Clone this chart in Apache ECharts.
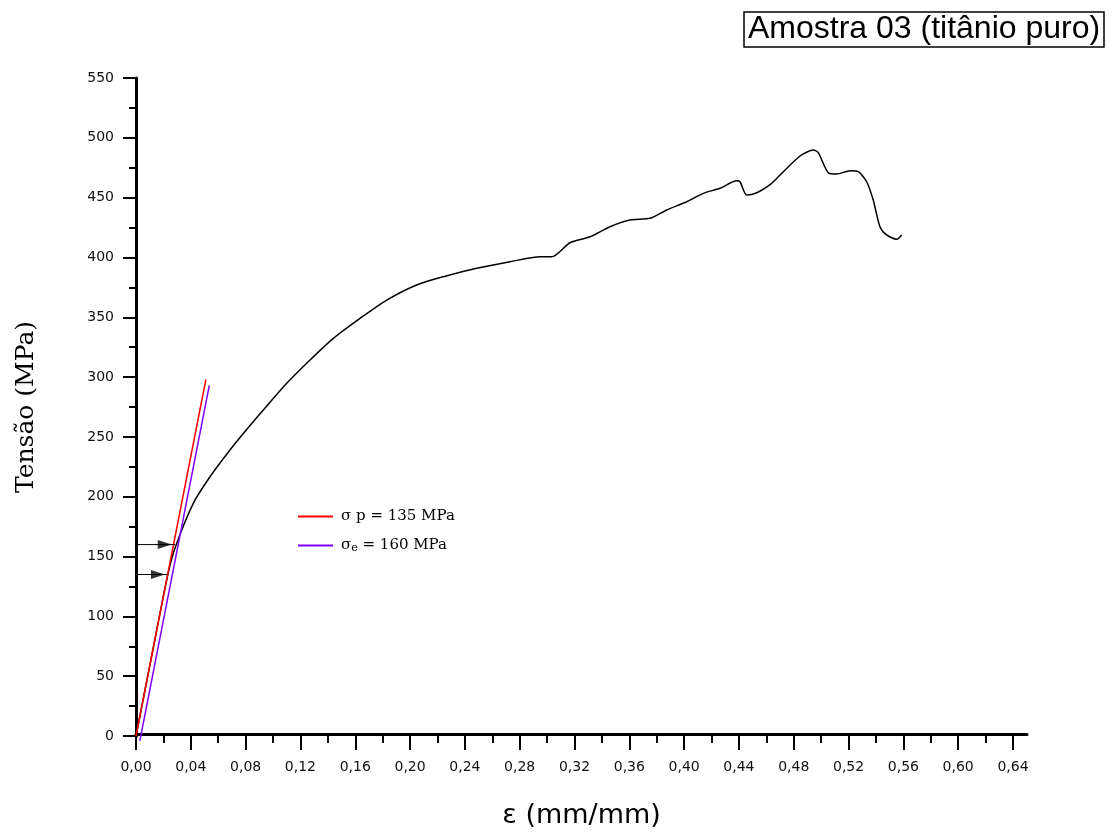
<!DOCTYPE html>
<html>
<head>
<meta charset="utf-8">
<title>Amostra 03 (titânio puro)</title>
<script src="https://cdn.jsdelivr.net/npm/echarts@6/dist/echarts.min.js"></script>
<style>
  html, body { margin: 0; padding: 0; background: #fff; }
  #chart { width: 1114px; height: 834px; }
</style>
</head>
<body>
<div id="chart"></div>
<script>
// Stress–strain curve, tensile test of commercially pure titanium
const strain = [0, 0.0117, 0.0230, 0.0285, 0.0418, 0.0540, 0.0686, 0.0832, 0.0929, 0.1100,
  0.1270, 0.1440, 0.1635, 0.1830, 0.2048, 0.2243, 0.2486, 0.2729, 0.2948, 0.3034,
  0.3167, 0.3313, 0.3459, 0.3605, 0.3751, 0.3873, 0.4019, 0.4140, 0.4262, 0.4384,
  0.4408, 0.4457, 0.4530, 0.4639, 0.4700, 0.4846, 0.4943, 0.4979, 0.5052, 0.5113,
  0.5211, 0.5271, 0.5332, 0.5380, 0.5429, 0.5478, 0.5551, 0.5588];
const stress = [0, 68.5, 133.7, 157.1, 194.5, 216.7, 239.1, 259.5, 272.5, 294.8,
  314.3, 332.4, 349.1, 364.4, 377.0, 383.9, 390.9, 396.4, 400.6, 400.6,
  412.3, 417.3, 425.7, 431.3, 432.7, 439.7, 446.6, 453.6, 457.8, 464.1,
  463.3, 452.2, 454.1, 462.0, 468.9, 484.8, 489.8, 487.6, 470.8, 469.7,
  472.5, 471.7, 463.3, 448.0, 425.7, 418.8, 415.2, 418.8];

// Elastic line through the origin and the offset line parallel to it
const elasticStrain = [0, 0.051];
const elasticStress = [0, 298];
const offsetStrain = [0.0028, 0.0535];
const offsetStress = [-4, 293];

// Limits read on the curve
const sigmaP = 135;   // proportionality limit, MPa
const sigmaE = 160;   // yield limit, MPa
const sigmaPEnd = 0.0234;
const sigmaEEnd = 0.0285;
const sigmaPHead = 0.0160;
const sigmaEHead = 0.0210;

const xTicks = { min: 0, max: 0.64, step: 0.04 };
const yTicks = { min: 0, max: 550, step: 50 };

const pairs = (xs, ys) => xs.map((x, i) => [x, ys[i]]);
const comma = v => v.toFixed(2).replace('.', ',');

const nameP = 'σ p = ' + sigmaP + ' MPa';
const nameE = 'σe = ' + sigmaE + ' MPa';

const arrowHead = 'path://M0,0 L13,4 L0,8 Z';

const chart = echarts.init(document.getElementById('chart'), null, { renderer: 'canvas' });

chart.setOption({
  backgroundColor: '#ffffff',
  animation: false,
  title: {
    text: 'Amostra 03 (titânio puro)',
    left: 744,
    top: 12,
    padding: [1, 4, 2, 4],
    borderColor: '#000',
    borderWidth: 1.5,
    textStyle: {
      fontFamily: 'Liberation Sans, Arial, sans-serif',
      fontSize: 32,
      fontWeight: 'normal',
      color: '#000'
    }
  },
  legend: {
    orient: 'vertical',
    left: 298,
    top: 509,
    padding: 0,
    itemWidth: 35,
    itemHeight: 2,
    itemGap: 14,
    icon: 'rect',
    data: [nameP, nameE],
    formatter: function (name) {
      if (name === nameE) {
        return '{t|σ}{sub|e}{t| = ' + sigmaE + ' MPa}';
      }
      return '{t|σ p = ' + sigmaP + ' MPa}';
    },
    textStyle: {
      padding: [0, 0, 0, 3],
      rich: {
        t: { fontFamily: 'DejaVu Serif, serif', fontSize: 15, color: '#000' },
        sub: { fontFamily: 'DejaVu Serif, serif', fontSize: 11, color: '#000', padding: [6, 0, 0, 0] }
      }
    }
  },
  grid: [
    { left: 136, top: 78, width: 891, height: 658 },
    { left: 136, top: 78, width: 877, height: 658 }
  ],
  xAxis: [
    {
      // long baseline that carries the axis title
      gridIndex: 0,
      type: 'value',
      min: 0,
      max: 1,
      name: 'ε (mm/mm)',
      nameLocation: 'middle',
      nameGap: 68,
      nameTextStyle: {
        fontFamily: 'DejaVu Sans, sans-serif',
        fontSize: 27,
        color: '#000'
      },
      axisLine: { show: true, lineStyle: { color: '#000', width: 3 } },
      axisTick: { show: false },
      axisLabel: { show: false },
      splitLine: { show: false }
    },
    {
      gridIndex: 1,
      type: 'value',
      min: xTicks.min,
      max: xTicks.max,
      interval: xTicks.step,
      axisLine: { show: false },
      axisTick: { show: true, length: 14, lineStyle: { color: '#000', width: 2 } },
      minorTick: { show: true, splitNumber: 2, length: 7, lineStyle: { color: '#000', width: 2 } },
      axisLabel: {
        margin: 24,
        formatter: comma,
        fontFamily: 'DejaVu Sans, sans-serif',
        fontSize: 14,
        color: '#111'
      },
      splitLine: { show: false }
    }
  ],
  yAxis: [
    {
      gridIndex: 0,
      type: 'value',
      min: 0,
      max: 1,
      show: false
    },
    {
      gridIndex: 1,
      type: 'value',
      min: yTicks.min,
      max: yTicks.max,
      interval: yTicks.step,
      name: 'Tensão (MPa)',
      nameLocation: 'middle',
      nameGap: 97,
      nameTextStyle: {
        fontFamily: 'DejaVu Serif, serif',
        fontSize: 25,
        color: '#000'
      },
      axisLine: { show: true, lineStyle: { color: '#000', width: 3 } },
      axisTick: { show: true, length: 13, lineStyle: { color: '#000', width: 2 } },
      minorTick: { show: true, splitNumber: 2, length: 7, lineStyle: { color: '#000', width: 2 } },
      axisLabel: {
        margin: 22,
        fontFamily: 'DejaVu Sans, sans-serif',
        fontSize: 14,
        color: '#111'
      },
      splitLine: { show: false }
    }
  ],
  series: [
    {
      name: 'curve',
      type: 'line',
      xAxisIndex: 1,
      yAxisIndex: 1,
      data: pairs(strain, stress),
      showSymbol: false,
      smooth: 0.25,
      lineStyle: { color: '#000', width: 1.5 },
      itemStyle: { color: '#000' },
      z: 3
    },
    {
      name: nameP,
      type: 'line',
      xAxisIndex: 1,
      yAxisIndex: 1,
      data: pairs(elasticStrain, elasticStress),
      showSymbol: false,
      clip: false,
      lineStyle: { color: '#ff0000', width: 1.5 },
      itemStyle: { color: '#ff0000' },
      z: 4
    },
    {
      name: nameE,
      type: 'line',
      xAxisIndex: 1,
      yAxisIndex: 1,
      data: pairs(offsetStrain, offsetStress),
      showSymbol: false,
      clip: false,
      lineStyle: { color: '#8000ff', width: 1.5 },
      itemStyle: { color: '#8000ff' },
      z: 4
    },
    {
      name: 'arrowP',
      type: 'line',
      xAxisIndex: 1,
      yAxisIndex: 1,
      data: [[0, sigmaP], [sigmaPEnd, sigmaP]],
      showSymbol: false,
      lineStyle: { color: '#000', width: 1 },
      z: 5
    },
    {
      name: 'arrowE',
      type: 'line',
      xAxisIndex: 1,
      yAxisIndex: 1,
      data: [[0, sigmaE], [sigmaEEnd, sigmaE]],
      showSymbol: false,
      lineStyle: { color: '#000', width: 1 },
      z: 5
    },
    {
      name: 'heads',
      type: 'scatter',
      xAxisIndex: 1,
      yAxisIndex: 1,
      data: [[sigmaPHead, sigmaP], [sigmaEHead, sigmaE]],
      symbol: arrowHead,
      symbolSize: [14, 9],
      itemStyle: { color: '#000' },
      z: 6
    }
  ]
});
</script>
</body>
</html>
